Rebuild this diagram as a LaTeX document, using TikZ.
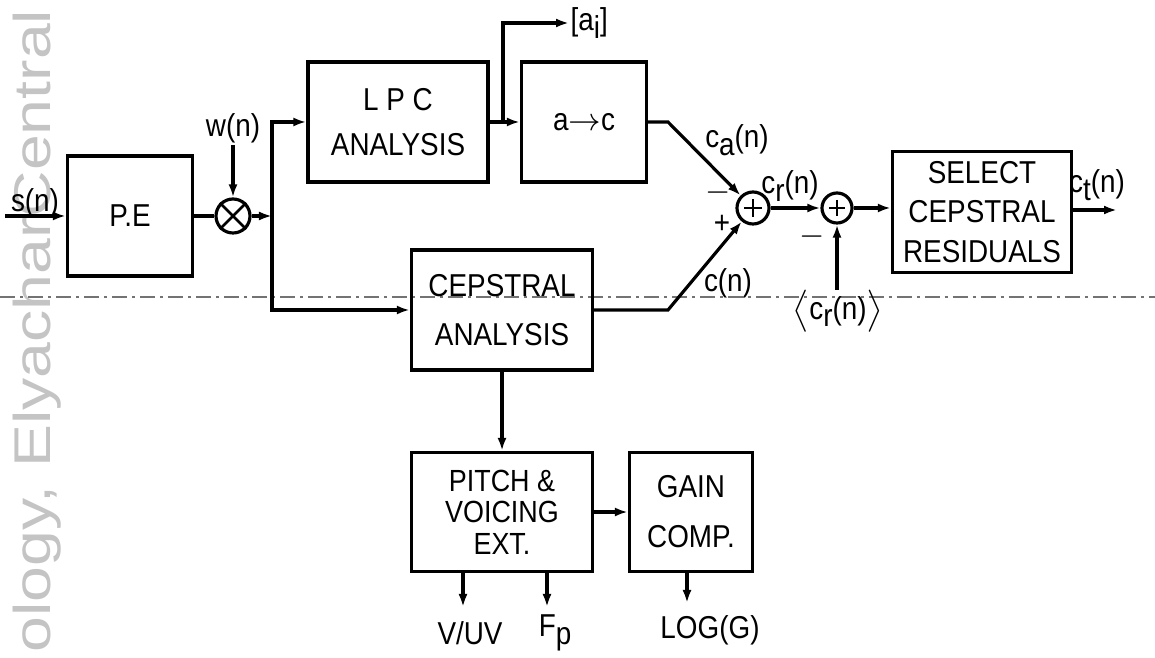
\documentclass[tikz,border=0pt]{standalone}
\usepackage{fontspec}
\setmainfont{Liberation Sans}[FakeStretch=0.88]
\newfontfamily\wmfont{Liberation Sans}
\usetikzlibrary{arrows.meta}
\newcommand{\lowr}[1]{\raisebox{-0.45ex}{#1}}

\begin{document}
\begin{tikzpicture}[x=0.01cm,y=-0.01cm,line width=0.9pt,
  >={Latex[length=1.3mm,width=0.9mm]},
  blk/.style={draw,rectangle,inner sep=0pt,align=center,font=\fontsize{9}{13}\selectfont},
  sumnode/.style={draw,circle,inner sep=0pt,minimum size=3.2mm},
  lbl/.style={inner sep=0pt,font=\fontsize{9}{11}\selectfont}]
\useasboundingbox (0,0) rectangle (1155,658);
\node[rotate=90,anchor=base west,inner sep=0pt,text=black!23,font=\wmfont\fontsize{14.7}{15}\selectfont] (wm) at (50,654) {\scalebox{1.245}[1]{ology, ElyacharCentral}};
\draw[black!55,line width=0.4pt,dash pattern=on 1.5mm off 0.5mm on 0.3mm off 0.5mm] (0,297) -- (1155,297);

\node[blk,minimum width=1.25cm,minimum height=1.2cm] (pe) at (130,216) {P.E};
\node[blk,minimum width=1.8cm,minimum height=1.2cm] (lpc) at (398,122) {L P C\\ANALYSIS};
\node[blk,minimum width=1.25cm,minimum height=1.2cm] (atoc) at (584,122) {a$\rightarrow$c};
\node[blk,minimum width=1.81cm,minimum height=1.2cm,font=\fontsize{9}{14}\selectfont] (cep) at (502,310) {CEPSTRAL\\ANALYSIS};
\node[blk,minimum width=1.81cm,minimum height=1.19cm,font=\fontsize{8.7}{9}\selectfont] (pitch) at (502,512) {PITCH \&\\VOICING\\EXT.};
\node[blk,minimum width=1.23cm,minimum height=1.19cm,font=\fontsize{9}{14.2}\selectfont] (gain) at (691,512) {GAIN\\COMP.};
\node[blk,minimum width=1.79cm,minimum height=1.21cm,font=\fontsize{9}{11.3}\selectfont] (sel) at (982,212) {SELECT\\CEPSTRAL\\RESIDUALS};

\node[sumnode,minimum size=3.4mm] (mul) at (233,216) {};
\draw[line width=0.8pt] (mul.north west) -- (mul.south east) (mul.north east) -- (mul.south west);
\node[sumnode] (sum1) at (753,208) {};
\draw[line width=0.8pt] (sum1) ++(-9,0) -- ++(18,0) (sum1) ++(0,-9) -- ++(0,18);
\node[sumnode,minimum size=3mm] (sum2) at (837,208) {};
\draw[line width=0.8pt] (sum2) ++(-8,0) -- ++(16,0) (sum2) ++(0,-8) -- ++(0,16);

\node[lbl] (sn) at (35,203) {s(n)};
\node[lbl] (wn) at (233,128) {w(n)};
\node[lbl,anchor=west] (ai) at (569,23) {[a\lowr{i}]};
\node[lbl] (can) at (737,140) {c\lowr{a}(n)};
\node[lbl] (cn) at (728,283) {c(n)};
\node[lbl] (mi1) at (718,193) {$-$};
\node[lbl] (pl1) at (722,224) {+};
\node[lbl] (crn) at (790,186) {c\lowr{r}(n)};
\node[lbl] (mi2) at (812,237) {$-$};
\node[lbl] (crm) at (838,311) {$\big\langle$c\lowr{r}(n)$\big\rangle$};
\node[lbl] (ctn) at (1097,185) {c\lowr{t}(n)};
\node[lbl] (vuv) at (470,633) {V/UV};
\node[lbl] (fp) at (555,633) {F\lowr{p}};
\node[lbl] (logg) at (710,630) {LOG(G)};

\coordinate (sin) at (5,216);
\coordinate (win) at (233,145);
\coordinate (jn) at (272,216);
\coordinate (br) at (503,122);
\coordinate (kna) at (668,122);
\coordinate (knc) at (668,310);
\coordinate (crin) at (837,290);
\coordinate (ctout) at (1117,210);
\coordinate (vo) at (463,607);
\coordinate (fo) at (547,607);
\coordinate (go) at (687,603);

\draw[->] (sin) -- (pe.west);
\draw[->] (win) -- (mul.north);
\draw (pe.east) -- (mul.west);
\draw[->] (mul.east) -- (jn);
\draw[->] (jn) |- (lpc.west);
\draw[->] (jn) |- (cep.west);
\draw[->] (lpc.east) -- (atoc.west);
\draw[->] (br) |- (ai.west);
\draw[->] (atoc.east) -- (kna) -- (sum1);
\draw[->] (cep.east) -- (knc) -- (sum1);
\draw[->] (sum1) -- (sum2);
\draw[->] (crin) -- (sum2.south);
\draw[->] (sum2) -- (sel.west |- sum2);
\draw[->] (sel.east |- ctout) -- (ctout);
\draw[->] (cep.south) -- (pitch.north);
\draw[->] (pitch.east) -- (gain.west);
\draw[->] (pitch.south -| vo) -- (vo);
\draw[->] (pitch.south -| fo) -- (fo);
\draw[->] (gain.south -| go) -- (go);
\end{tikzpicture}
\end{document}
